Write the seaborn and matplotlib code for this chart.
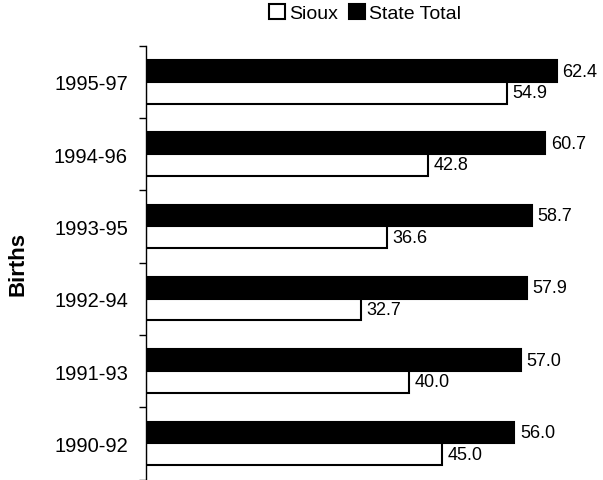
import numpy as np
import pandas as pd
import matplotlib
matplotlib.use("Agg")
import matplotlib.pyplot as plt
import seaborn as sns
from matplotlib.patches import Patch

periods = ["1995-97", "1994-96", "1993-95", "1992-94", "1991-93", "1990-92"]
sioux = [54.9, 42.8, 36.6, 32.7, 40.0, 45.0]
state_total = [62.4, 60.7, 58.7, 57.9, 57.0, 56.0]
series = ["State Total", "Sioux"]

df = pd.DataFrame({
    "Period": periods * 2,
    "Series": ["State Total"] * len(periods) + ["Sioux"] * len(periods),
    "Value": state_total + sioux,
})

sns.set_style("white")
plt.rcParams["font.family"] = ["Liberation Sans", "DejaVu Sans"]
plt.rcParams["text.color"] = "black"
plt.rcParams["axes.labelcolor"] = "black"
plt.rcParams["ytick.color"] = "black"

fig = plt.figure(figsize=(6.03, 4.81), dpi=100)
ax = fig.add_axes([146 / 603, 0.5 / 481, 446 / 603, 433.8 / 481])

sns.barplot(data=df, y="Period", x="Value", hue="Series", order=periods,
            hue_order=series, palette={"State Total": "black", "Sioux": "white"},
            orient="h", width=0.6, edgecolor="black", linewidth=1.5,
            legend=False, ax=ax)

# value labels
for cont in ax.containers:
    ax.bar_label(cont, fmt="%.1f", padding=4, fontsize=13, color="black")

ax.set_xlim(0, 446 / 6.58)
ax.set_ylim(len(periods) - 0.5, -0.5)
ax.xaxis.set_visible(False)
for s in ["top", "right", "bottom"]:
    ax.spines[s].set_visible(False)
ax.spines["left"].set_color("black")
ax.spines["left"].set_linewidth(1.0)

ax.set_yticks(np.arange(len(periods)))
ax.set_yticklabels(periods, fontsize=14.5)
ax.set_yticks(np.arange(len(periods) + 1) - 0.5, minor=True)
ax.tick_params(axis="y", which="major", length=0, pad=13, labelcolor="black")
ax.tick_params(axis="y", which="minor", length=5, width=1, color="black",
               direction="out", left=True)

ax.set_ylabel("Births", fontsize=16, fontweight="bold", labelpad=18, color="black")

handles = [Patch(facecolor="white", edgecolor="black", linewidth=1.5),
           Patch(facecolor="black", edgecolor="black", linewidth=1.5)]
fig.legend(handles, ["Sioux", "State Total"], loc="center",
           bbox_to_anchor=(365 / 603, 1 - 14 / 481), ncol=2, frameon=False,
           fontsize=14, handlelength=0.8, handleheight=0.8,
           handletextpad=0.2, columnspacing=0.6)

fig.savefig("out.png", dpi=100)
